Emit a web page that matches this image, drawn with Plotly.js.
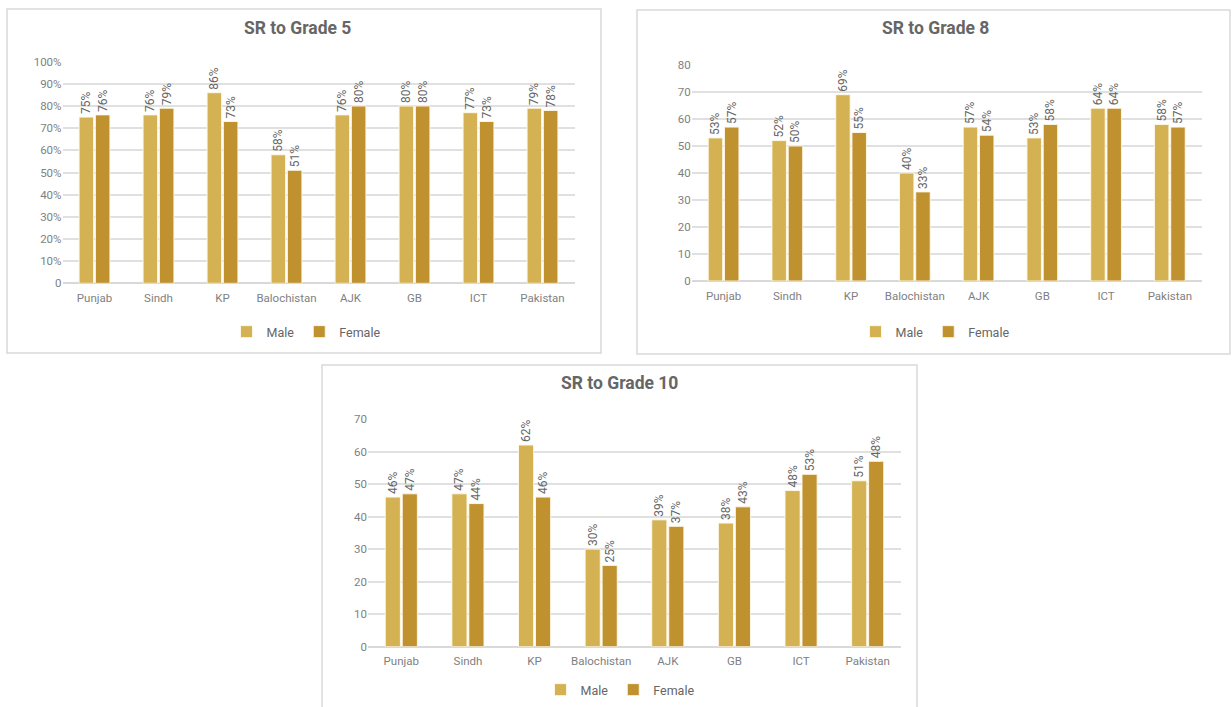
<!DOCTYPE html>
<html>
<head>
<meta charset="utf-8">
<script src="https://cdn.plot.ly/plotly-3.0.1.min.js"></script>
<style>html,body{margin:0;padding:0;background:#fff;}#chart{width:1232px;height:707px;}</style>
</head>
<body>
<div id="chart"></div>
<script>
const categories = ['Punjab','Sindh','KP','Balochistan','AJK','GB','ICT','Pakistan'];
const seriesNames = ['Male','Female'];

const g5Male = [75,76,86,58,76,80,77,79];
const g5Female = [76,79,73,51,80,80,73,78];
const g5MaleLabels = ['75%','76%','86%','58%','76%','80%','77%','79%'];
const g5FemaleLabels = ['76%','79%','73%','51%','80%','80%','73%','78%'];
const g5TickVals = [0,10,20,30,40,50,60,70,80,90,100];
const g5TickText = ['0','10%','20%','30%','40%','50%','60%','70%','80%','90%','100%'];

const g8Male = [53,52,69,40,57,53,64,58];
const g8Female = [57,50,55,33,54,58,64,57];
const g8MaleLabels = ['53%','52%','69%','40%','57%','53%','64%','58%'];
const g8FemaleLabels = ['57%','50%','55%','33%','54%','58%','64%','57%'];

const g10Male = [46,47,62,30,39,38,48,51];
const g10Female = [47,44,46,25,37,43,53,57];
const g10MaleLabels = ['46%','47%','62%','30%','39%','38%','48%','51%'];
const g10FemaleLabels = ['47%','44%','46%','25%','37%','43%','53%','48%'];

const titles = ['SR to Grade 5','SR to Grade 8','SR to Grade 10'];

const MALE = '#D4B254';
const FEMALE = '#C0912F';
const W = 1232, H = 707;
const FONT = 'Roboto, Arial, sans-serif';

function bar(name, y, text, color, xa, ya, leg) {
  return {
    type: 'bar', name: name, x: categories, y: y, text: text,
    texttemplate: '%{text}', textposition: 'outside', textangle: -90,
    constraintext: 'none', cliponaxis: false,
    textfont: {family: FONT, size: 12, color: '#666666'},
    marker: {color: color, line: {color: 'rgba(255,250,235,0.9)', width: 1}},
    xaxis: xa, yaxis: ya, legend: leg, hoverinfo: 'skip'
  };
}

const data = [
  bar(seriesNames[0], g5Male, g5MaleLabels, MALE, 'x', 'y', 'legend'),
  bar(seriesNames[1], g5Female, g5FemaleLabels, FEMALE, 'x', 'y', 'legend'),
  bar(seriesNames[0], g8Male, g8MaleLabels, MALE, 'x2', 'y2', 'legend2'),
  bar(seriesNames[1], g8Female, g8FemaleLabels, FEMALE, 'x2', 'y2', 'legend2'),
  bar(seriesNames[0], g10Male, g10MaleLabels, MALE, 'x3', 'y3', 'legend3'),
  bar(seriesNames[1], g10Female, g10FemaleLabels, FEMALE, 'x3', 'y3', 'legend3')
];

function px(x){return x/W;}
function py(y){return 1 - y/H;}

function xaxis(x0, x1, anchor) {
  return {
    domain: [px(x0), px(x1)], anchor: anchor, type: 'category',
    showgrid: false, zeroline: false, showline: false, ticks: '',
    tickfont: {family: FONT, size: 11.5, color: '#7f7f7f'}, ticklabelstandoff: 6
  };
}
function yaxis(y0, y1, anchor, range, extra) {
  return Object.assign({
    domain: [py(y0), py(y1)], anchor: anchor, range: range, dtick: 10,
    showgrid: true, gridcolor: '#e0e0e0', gridwidth: 2,
    zeroline: true, zerolinecolor: '#d9d9d9', zerolinewidth: 2,
    showline: false, ticks: '',
    tickfont: {family: FONT, size: 11.5, color: '#7f7f7f'}
  }, extra || {});
}

function legendAt(cx, cy) {
  return {
    orientation: 'h', x: px(cx), y: py(cy), xanchor: 'center', yanchor: 'middle',
    font: {family: FONT, size: 12.5, color: '#666666'},
    bgcolor: 'rgba(0,0,0,0)', itemclick: false, itemdoubleclick: false
  };
}

function border(x0, y0, x1, y1) {
  return {type: 'rect', xref: 'paper', yref: 'paper',
    x0: px(x0), x1: px(x1), y0: py(y1), y1: py(y0),
    line: {color: '#d9d9d9', width: 1.5}, fillcolor: 'rgba(0,0,0,0)', layer: 'below'};
}
function title(text, cx, cy) {
  return {text: '<b>' + text + '</b>', xref: 'paper', yref: 'paper', x: px(cx), y: py(cy),
    xanchor: 'center', yanchor: 'middle', showarrow: false,
    font: {family: FONT, size: 17.5, color: '#666666'}};
}

const layout = {
  width: W, height: H, margin: {l: 0, r: 0, t: 0, b: 0},
  paper_bgcolor: '#ffffff', plot_bgcolor: 'rgba(0,0,0,0)',
  barmode: 'group', bargap: 0.49, bargroupgap: 0.11,
  showlegend: true,
  xaxis: xaxis(62.5, 574.5, 'y'),
  yaxis: yaxis(283.3, 61.7, 'x', [0, 100], {tickvals: g5TickVals, ticktext: g5TickText}),
  xaxis2: xaxis(691.7, 1201.7, 'y2'),
  yaxis2: yaxis(281, 65, 'x2', [0, 80]),
  xaxis3: xaxis(368, 901, 'y3'),
  yaxis3: yaxis(646.7, 419, 'x3', [0, 70]),
  legend: legendAt(306, 332),
  legend2: legendAt(935, 332),
  legend3: legendAt(620, 690),
  shapes: [border(7, 9, 601, 353), border(637, 10, 1230, 354), border(322, 365, 917, 712)],
  annotations: [title(titles[0], 297, 28), title(titles[1], 935, 28), title(titles[2], 619, 383)]
};

Plotly.newPlot('chart', data, layout, {staticPlot: true, displayModeBar: false});
</script>
</body>
</html>
